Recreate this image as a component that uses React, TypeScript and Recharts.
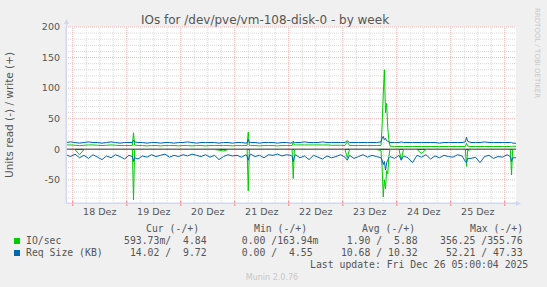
import React from "react";
import {
  ComposedChart,
  Line,
  XAxis,
  YAxis,
  CartesianGrid,
  ReferenceLine,
} from "recharts";

// hours since 18 Dez 00:00 (30 min spikes get extra points)
const hours = [
  -3, -1, 1, 3, 5, 7, 9, 11, 13, 15, 17, 19, 21, 23,
  25, 26.5, 27, 27.5, 29, 31, 33, 35, 37, 39, 41, 43, 45, 47,
  49, 51, 53, 55, 57, 59, 61, 63, 65, 67, 69, 71,
  73, 75, 77, 77.5, 78, 78.5, 79, 81, 83, 85, 87, 89, 91, 93, 95,
  97, 97.5, 98, 98.5, 99, 101, 103, 105, 107, 109, 111, 113, 115, 117, 119,
  121, 122, 123, 125, 127, 129, 131, 133, 135, 137, 137.5, 138, 138.5, 139, 139.5, 140, 140.5, 141, 143,
  145, 146, 147, 149, 151, 153, 155, 157, 159, 161, 163, 165, 167,
  169, 171, 173, 174.5, 175, 175.5, 177, 179, 181, 183, 185, 187, 189, 191,
  193, 194.5, 195, 195.5, 197,
];

// IO/sec, write (+)
const ioWrite = [
  7, 7, 6.5, 6, 6.5, 7, 7, 6.5, 6, 6.5, 7, 6.5, 6, 6,
  6, 6, 27, 7, 6, 6, 5.5, 6, 6, 5.5, 6, 6, 6, 5.5,
  6, 6, 5.5, 6, 6, 5.5, 6, 6, 6, 6, 6, 5.5,
  6, 6, 6, 6, 28, 6, 6, 6, 5.5, 6, 6, 6, 5.5, 6, 6,
  6, 6, 12, 7, 7, 7, 7, 7, 7, 7, 7, 7, 6.5, 6.5, 6.5,
  6, 12, 6, 6, 6, 6, 6, 6, 6, 6, 40, 90, 130, 60, 75, 35, 15, 5, 4.5,
  4.5, 4.5, 4.5, 4.5, 4.5, 4.5, 4.5, 4.5, 4.5, 4.5, 4.5, 4.5, 4.5,
  4.5, 4.5, 4.5, 4.5, 10, 5, 4.5, 4.5, 4.5, 4.5, 4.5, 4.5, 4.5, 4.5,
  4.5, 4.5, 4.5, 4.8, 4.84,
];

// IO/sec, read (-)
const ioRead = [
  0.5, 0.5, 0.5, 9, 0.5, 0.5, 0.5, 0.5, 0.5, 0.5, 0.5, 0.5, 0.5, 0.5,
  0.5, 0.5, 83, 0.5, 0.5, 0.5, 0.5, 0.5, 0.5, 0.5, 0.5, 0.5, 0.5, 0.5,
  0.5, 0.5, 0.5, 0.5, 0.5, 0.5, 0.5, 0.5, 1.5, 3, 0.5, 0.5,
  0.5, 0.5, 0.5, 0.5, 68, 0.5, 0.5, 0.5, 0.5, 0.5, 0.5, 0.5, 0.5, 0.5, 0.5,
  0.5, 0.5, 48, 0.5, 0.5, 0.5, 0.5, 0.5, 0.5, 0.5, 0.5, 0.5, 0.5, 0.5, 0.5,
  0.5, 14, 0.5, 0.5, 0.5, 0.5, 0.5, 0.5, 0.5, 2, 30, 78, 50, 65, 35, 40, 12, 0.5, 0.5,
  0.5, 17, 0.5, 0.5, 0.5, 0.5, 7, 0.5, 0.5, 0.5, 0.5, 0.5, 0.5,
  0.5, 0.5, 0.5, 0.5, 28, 2, 0.5, 0.5, 0.5, 0.5, 0.5, 0.5, 0.5, 0.5,
  0.5, 0.5, 42, 0.5, 0.59,
];

// Req Size (KB), write (+)
const reqWrite = [
  11, 12, 11, 10, 11, 12, 11, 11, 10, 11, 12, 11, 10, 11,
  11, 11, 15, 12, 11, 11, 10, 11, 11, 10, 11, 11, 10, 11,
  11, 12, 11, 10, 11, 11, 11, 11, 10, 11, 11, 10,
  11, 11, 10, 11, 16, 11, 11, 11, 10, 11, 11, 11, 10, 11, 11,
  10, 11, 13, 11, 11, 11, 12, 11, 11, 11, 12, 11, 11, 11, 11,
  11, 14, 11, 11, 11, 11, 11, 11, 11, 12, 18, 21, 15, 18, 14, 13, 12, 11, 11,
  11, 12, 11, 11, 11, 11, 11, 11, 11, 11, 10, 11, 11,
  11, 11, 11, 12, 20, 13, 11, 11, 11, 12, 11, 11, 11, 11,
  11, 11, 11, 10, 9.72,
];

// Req Size (KB), read (-)
const reqRead = [
  9, 12, 8, 14, 10, 15, 9, 13, 17, 11, 14, 9, 12, 16,
  10, 12, 20, 14, 16, 11, 13, 9, 12, 10, 8, 13, 10, 12,
  9, 11, 8, 10, 12, 9, 13, 10, 17, 12, 9, 11,
  10, 13, 9, 12, 18, 11, 8, 12, 10, 14, 9, 10, 8, 11, 9,
  10, 12, 20, 13, 9, 14, 11, 17, 10, 13, 16, 11, 14, 12, 9,
  13, 18, 10, 15, 12, 9, 13, 10, 12, 14, 18, 25, 20, 34, 22, 18, 14, 12, 15,
  10, 18, 11, 14, 22, 10, 13, 9, 16, 11, 14, 10, 12,
  13, 9, 11, 20, 22, 15, 15, 13, 22, 12, 10, 15, 12, 13,
  9, 12, 20, 14, 14.02,
];

const dayLabels = ["18 Dez", "19 Dez", "20 Dez", "21 Dez", "22 Dez", "23 Dez", "24 Dez", "25 Dez"];
const yTicks = [-50, 0, 50, 100, 150, 200];

const legendRows = [
  { name: "IO/sec", color: "#00cc00", cur: "593.73m/  4.84 ", min: "  0.00 /163.94m", avg: "  1.90 /  5.88 ", max: "356.25 /355.76 " },
  { name: "Req Size (KB)", color: "#0066b3", cur: " 14.02 /  9.72 ", min: "  0.00 /  4.55 ", avg: " 10.68 / 10.32 ", max: " 52.21 / 47.33 " },
];

const data = hours.map((t, i) => ({
  t,
  ioW: ioWrite[i],
  ioR: -ioRead[i],
  rqW: reqWrite[i],
  rqR: -reqRead[i],
}));

const majorX: number[] = [];
const minorX: number[] = [];
for (let h = 0; h <= 192; h += 6) (h % 24 === 0 ? majorX : minorX).push(h);
const noonX = dayLabels.map((_, i) => i * 24 + 12);
const minorY: number[] = [];
for (let v = -80; v <= 190; v += 10) if (v % 50 !== 0) minorY.push(v);

const FONT = "DejaVu Sans, sans-serif";
const MONO = "DejaVu Sans Mono, monospace";
const TEXT = "#555";
const AXIS = "#cfd6f8";

function DayTick({ x, y, payload }: any) {
  const v = payload.value;
  if (v % 24 === 0) {
    return <line x1={x} x2={x} y1={y - 2} y2={y + 3} stroke="#f08080" />;
  }
  return (
    <text x={x} y={y + 12} textAnchor="middle" fill={TEXT} fontSize={9.5} fontFamily={FONT}>
      {dayLabels[Math.round((v - 12) / 24)]}
    </text>
  );
}

const mono: React.CSSProperties = {
  position: "absolute",
  fontFamily: MONO,
  fontSize: 9.8,
  lineHeight: "12px",
  color: TEXT,
  whiteSpace: "pre",
};

export default function App() {
  const headTop = 222.5;
  const rowTop = [234.5, 246.5];
  return (
    <div
      style={{
        position: "absolute",
        left: 0,
        top: 0,
        width: 547,
        height: 287,
        background: "#f0f0f0",
        overflow: "hidden",
      }}
    >
      <div
        style={{
          position: "absolute",
          left: 0,
          width: 530,
          top: 13,
          textAlign: "center",
          fontFamily: FONT,
          fontSize: 12,
          color: TEXT,
        }}
      >
        IOs for /dev/pve/vm-108-disk-0 - by week
      </div>

      <ComposedChart
        width={547}
        height={287}
        data={data}
        margin={{ top: 27, right: 31, left: 0, bottom: 0 }}
      >
        <CartesianGrid horizontal={false} vertical={false} fill="#ffffff" />
        {minorX.map((h) => (
          <ReferenceLine key={"mx" + h} x={h} stroke="#dadada" strokeDasharray="1 1" />
        ))}
        {minorY.map((v) => (
          <ReferenceLine key={"my" + v} y={v} stroke="#dadada" strokeDasharray="1 1" />
        ))}
        {majorX.map((h) => (
          <ReferenceLine key={"Mx" + h} x={h} stroke="#f4b4b4" strokeDasharray="1 1" />
        ))}
        {yTicks
          .filter((v) => v !== 0)
          .map((v) => (
            <ReferenceLine key={"My" + v} y={v} stroke="#f4b4b4" strokeDasharray="1 1" />
          ))}
        <XAxis
          type="number"
          dataKey="t"
          domain={[-3, 197]}
          ticks={[...majorX, ...noonX].sort((a, b) => a - b)}
          interval={0}
          height={84}
          axisLine={{ stroke: AXIS }}
          tickLine={false}
          tickSize={0}
          tickMargin={0}
          tick={<DayTick />}
          allowDataOverflow
        />
        <YAxis
          type="number"
          domain={[-88, 200]}
          ticks={yTicks}
          width={66}
          axisLine={{ stroke: AXIS }}
          tickLine={false}
          tickSize={4}
          tickMargin={2}
          tick={{ fill: TEXT, fontSize: 9.5, fontFamily: FONT }}
          allowDataOverflow
        />
        <ReferenceLine y={0} stroke="#000000" />
        <Line type="linear" dataKey="ioW" stroke="#00cc00" strokeWidth={1} dot={false} isAnimationActive={false} />
        <Line type="linear" dataKey="ioR" stroke="#00cc00" strokeWidth={1} dot={false} isAnimationActive={false} />
        <Line type="linear" dataKey="rqW" stroke="#0066b3" strokeWidth={1} dot={false} isAnimationActive={false} />
        <Line type="linear" dataKey="rqR" stroke="#0066b3" strokeWidth={1} dot={false} isAnimationActive={false} />
      </ComposedChart>

      <svg
        width={547}
        height={287}
        style={{ position: "absolute", left: 0, top: 0, pointerEvents: "none" }}
      >
        <line x1={66.5} x2={66.5} y1={203} y2={22} stroke={AXIS} />
        <polygon points="64,24 69,24 66.5,19" fill={AXIS} />
        <line x1={66} x2={518} y1={203.5} y2={203.5} stroke={AXIS} />
        <polygon points="516,201 516,206 521,203.5" fill={AXIS} />
        <text
          transform="translate(13,115) rotate(-90)"
          textAnchor="middle"
          fontFamily={FONT}
          fontSize={10.5}
          fill={TEXT}
        >
          Units read (-) / write (+)
        </text>
        <text
          transform="translate(535,8) rotate(90)"
          textAnchor="start"
          fontFamily={FONT}
          fontSize={7}
          fill="#c8c8c8"
        >
          RRDTOOL / TOBI OETIKER
        </text>
        <text x={272} y={280} textAnchor="middle" fontFamily={FONT} fontSize={8} fill="#c8c8c8">
          Munin 2.0.76
        </text>
      </svg>

      <div style={{ ...mono, left: 146, top: headTop }}>Cur (-/+)</div>
      <div style={{ ...mono, left: 254, top: headTop }}>Min (-/+)</div>
      <div style={{ ...mono, left: 362, top: headTop }}>Avg (-/+)</div>
      <div style={{ ...mono, left: 470, top: headTop }}>Max (-/+)</div>
      {legendRows.map((r, i) => (
        <React.Fragment key={r.name}>
          <div
            style={{
              position: "absolute",
              left: 14,
              top: rowTop[i] + 3,
              width: 6,
              height: 6,
              background: r.color,
            }}
          />
          <div style={{ ...mono, left: 26, top: rowTop[i] }}>{r.name}</div>
          <div style={{ ...mono, left: 124, top: rowTop[i] }}>{r.cur}</div>
          <div style={{ ...mono, left: 230, top: rowTop[i] }}>{r.min}</div>
          <div style={{ ...mono, left: 335, top: rowTop[i] }}>{r.avg}</div>
          <div style={{ ...mono, left: 440, top: rowTop[i] }}>{r.max}</div>
        </React.Fragment>
      ))}
      <div style={{ ...mono, left: 310, top: 258.5 }}>Last update: Fri Dec 26 05:00:04 2025</div>
    </div>
  );
}
